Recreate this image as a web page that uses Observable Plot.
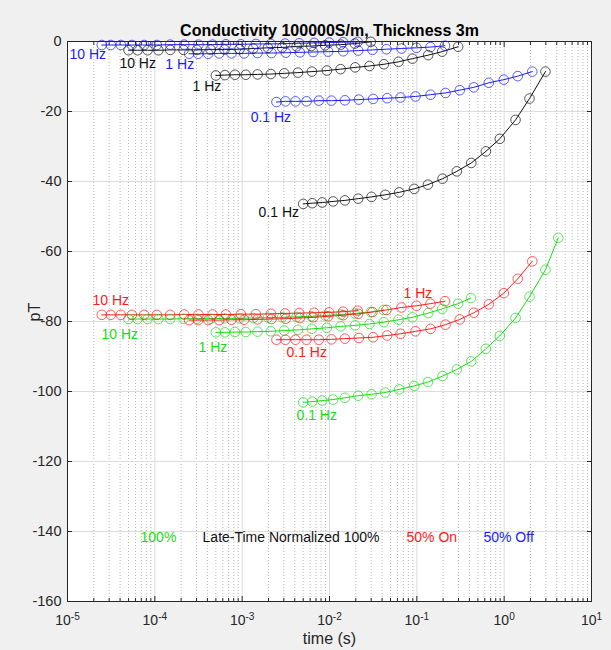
<!DOCTYPE html>
<html><head><meta charset="utf-8">
<script src="https://cdn.jsdelivr.net/npm/d3@7"></script>
<script src="https://cdn.jsdelivr.net/npm/@observablehq/plot@0.6"></script>
<style>
html,body{margin:0;padding:0;background:#f0f0f0;}
#chart svg{display:block;}
</style></head><body><div id="chart"></div>
<script>
// ---- data ----
const freqLabels = ["0.1 Hz", "1 Hz", "10 Hz"];
const freqValues = [0.1, 1, 10];
// sample times (s) at 0.1 Hz; times at other frequencies scale with the period
const tFull = [0.0050,0.00634,0.00826,0.0110,0.0150,0.0213,0.0303,0.0435,0.0628,0.0933,0.134,0.197,0.287,0.420,0.617,0.891,1.35,1.95,2.97,4.16];
const tHalf = [0.00247,0.00313,0.00408,0.00546,0.00755,0.01054,0.0150,0.0217,0.0316,0.0458,0.0650,0.0966,0.1436,0.213,0.310,0.449,0.667,0.991,1.43,2.10];

// 100% (green)
const green01 = [-103.1,-102.9,-102.6,-102.3,-101.8,-101.2,-100.8,-100.3,-99.4,-98.4,-97.3,-95.6,-93.7,-91.4,-87.8,-84.1,-79.0,-72.9,-65.2,-56.1];
const green1  = [-83.1,-83.1,-83.0,-83.0,-82.9,-82.8,-82.6,-82.4,-82.1,-81.8,-81.4,-81.1,-80.7,-80.2,-79.5,-78.8,-77.6,-76.4,-74.9,-73.3];
const green10 = [-79.3,-79.3,-79.3,-79.3,-79.3,-79.2,-79.2,-79.2,-79.1,-79.1,-79.0,-78.9,-78.8,-78.7,-78.5,-78.3,-78.0,-77.7,-77.3,-76.7];
// 50% On (red)
const red01 = [-85.2,-85.2,-85.2,-85.2,-85.2,-85.1,-84.9,-84.7,-84.5,-84.0,-83.5,-82.8,-82.1,-80.9,-79.4,-77.5,-75.1,-71.9,-67.8,-62.8];
const red1  = [-79.6,-79.6,-79.6,-79.6,-79.5,-79.5,-79.4,-79.3,-79.2,-79.0,-78.8,-78.5,-78.2,-77.8,-77.3,-76.7,-76.0,-75.5,-74.9,-74.2];
const red10 = [-78.1,-78.1,-78.1,-78.1,-78.1,-78.1,-78.1,-78.0,-78.0,-78.0,-78.0,-77.9,-77.9,-77.8,-77.7,-77.6,-77.5,-77.4,-77.2,-76.9];
// 50% Off (blue)
const blue01 = [-17.3,-17.1,-17.1,-17.1,-16.9,-16.9,-16.8,-16.6,-16.4,-16.2,-16.0,-15.7,-15.2,-14.7,-13.9,-13.1,-11.8,-10.9,-9.9,-8.6];
const blue1  = [-3.5,-3.5,-3.5,-3.4,-3.4,-3.4,-3.3,-3.3,-3.2,-3.1,-3.0,-2.9,-2.8,-2.6,-2.4,-2.2,-2.0,-1.8,-1.6,-1.2];
const blue10 = [-1.0,-1.0,-1.0,-1.0,-1.0,-1.0,-0.9,-0.9,-0.9,-0.9,-0.8,-0.8,-0.7,-0.7,-0.6,-0.5,-0.4,-0.3,-0.2,-0.1];
// Late-Time Normalized 100% (black)
const black01 = [-46.4,-46.2,-46.0,-45.7,-45.4,-44.9,-44.4,-43.8,-43.1,-42.1,-40.9,-39.2,-37.1,-34.7,-31.4,-27.8,-22.4,-16.3,-8.6];
const black1  = [-9.7,-9.6,-9.5,-9.5,-9.4,-9.3,-9.1,-8.9,-8.6,-8.3,-7.9,-7.4,-7.0,-6.5,-5.8,-4.9,-3.9,-2.9,-1.5];
const black10 = [-2.5,-2.5,-2.5,-2.5,-2.4,-2.4,-2.4,-2.3,-2.3,-2.2,-2.0,-1.8,-1.7,-1.4,-1.3,-1.1,-0.9,-0.6,-0.1];

const GREEN = "#16dc16", RED = "#ff1a1a", BLUE = "#1a1aff", BLACK = "#111111";

// in-plot labels
const labelText  = ["10 Hz","10 Hz","1 Hz","1 Hz","0.1 Hz","0.1 Hz","10 Hz","10 Hz","1 Hz","1 Hz","0.1 Hz","0.1 Hz"];
const labelT     = [1.054e-5,3.93e-5,1.32e-4,2.70e-4,1.25e-3,1.54e-3,1.93e-5,2.45e-5,3.16e-4,0.0703,3.22e-3,4.19e-3];
const labelV     = [-3.7,-6.3,-6.6,-12.9,-21.7,-48.9,-74,-83.7,-87.4,-72,-88.9,-106.9];
const labelColor = [BLUE,BLACK,BLUE,BLACK,BLUE,BLACK,RED,GREEN,GREEN,RED,RED,GREEN];

// legend texts
const legendText  = ["100%","Late-Time Normalized 100%","50% On","50% Off"];
const legendT     = [6.86e-5,3.52e-4,0.0762,0.579];
const legendV     = [-141.7,-141.7,-141.7,-141.7];
const legendColor = [GREEN,BLACK,RED,BLUE];

// axis ticks
const xMajor = [1e-5,1e-4,1e-3,1e-2,1e-1,1,10];
const yTicks = [-160,-140,-120,-100,-80,-60,-40,-20,0];
const xMinor = d3.scaleLog().domain([1e-5,10]).ticks().filter(v => !xMajor.some(m => Math.abs(m - v) / m < 1e-9));

// ---- assemble rows ----
const groups = [
  {name:"green", color:GREEN, times:tFull, vals:[green01,green1,green10]},
  {name:"red",   color:RED,   times:tHalf, vals:[red01,red1,red10]},
  {name:"blue",  color:BLUE,  times:tHalf, vals:[blue01,blue1,blue10]},
  {name:"black", color:BLACK, times:tFull, vals:[black01,black1,black10]}
];
const rows = [];
groups.forEach(g => g.vals.forEach((vals, fi) => vals.forEach((v, i) => {
  rows.push({key: g.name + freqLabels[fi], color: g.color, t: g.times[i] * (freqValues[0] / freqValues[fi]), v});
})));
const labels = labelText.map((s, i) => ({s, t: labelT[i], v: labelV[i], c: labelColor[i]}));
const legend = legendText.map((s, i) => ({s, t: legendT[i], v: legendV[i], c: legendColor[i]}));

const AX = "#262626";
const chart = Plot.plot({
  width: 611, height: 650,
  marginLeft: 67, marginRight: 20, marginTop: 41, marginBottom: 49,
  style: {background: "#f0f0f0", fontFamily: "'Liberation Sans', Arial, sans-serif", fontSize: "13px", color: AX},
  x: {type: "log", domain: [1e-5, 10]},
  y: {domain: [-160, 0]},
  color: {type: "identity"},
  marks: [
    Plot.frame({fill: "white", stroke: "none"}),
    Plot.gridX(xMinor, {stroke: "#b8b8b8", strokeOpacity: 1, strokeDasharray: "1,2"}),
    Plot.gridX(xMajor, {stroke: "#dcdcdc", strokeOpacity: 1}),
    Plot.gridY(yTicks, {stroke: "#dcdcdc", strokeOpacity: 1}),
    Plot.line(rows, {x: "t", y: "v", z: "key", stroke: "color", strokeWidth: 1}),
    Plot.dot(rows, {x: "t", y: "v", stroke: "color", r: 4.8, strokeWidth: 1, strokeOpacity: 0.7, fill: "none"}),
    Plot.text(labels, {x: "t", y: "v", text: "s", fill: "c", textAnchor: "start", fontSize: 14}),
    Plot.text(legend, {x: "t", y: "v", text: "s", fill: "c", textAnchor: "start", fontSize: 14}),
    Plot.frame({stroke: AX, strokeWidth: 1}),
    Plot.axisX(xMajor, {anchor: "bottom", tickSize: -5, fill: "none", stroke: AX}),
    Plot.axisX(xMajor, {anchor: "top", tickSize: -5, fill: "none", stroke: AX}),
    Plot.axisX(xMinor, {anchor: "bottom", tickSize: -3, fill: "none", stroke: AX}),
    Plot.axisX(xMinor, {anchor: "top", tickSize: -3, fill: "none", stroke: AX}),
    Plot.axisX(xMajor, {anchor: "bottom", tickSize: 0, tickPadding: 14, fontSize: 14, fill: AX, label: null,
      tickFormat: d => "10^" + Math.round(Math.log10(d))}),
    Plot.axisY(yTicks, {anchor: "left", tickSize: -5, fill: "none", stroke: AX}),
    Plot.axisY(yTicks, {anchor: "right", tickSize: -5, fill: "none", stroke: AX}),
    Plot.axisY(yTicks, {anchor: "left", tickSize: 0, tickPadding: 6, fontSize: 14.5, fill: AX, label: null,
      tickFormat: d => String(d)}),
    Plot.text(["Conductivity 100000S/m, Thickness 3m"], {frameAnchor: "top", dy: -17, fontWeight: "bold", fontSize: 16, fill: "#000"}),
    Plot.text(["time (s)"], {frameAnchor: "bottom", dy: 42, fontSize: 16, fill: AX}),
    Plot.text(["pT"], {frameAnchor: "left", dx: -33, rotate: -90, fontSize: 16, fill: AX})
  ]
});
document.getElementById("chart").appendChild(chart);

// render exponents as superscripts
d3.select(chart).selectAll("text").each(function() {
  const s = this.textContent;
  const m = /^10\^(-?\d+)$/.exec(s);
  if (!m) return;
  const el = d3.select(this);
  el.text(null);
  el.append("tspan").text("10");
  el.append("tspan").attr("dy", "-0.55em").attr("font-size", "0.72em").text(m[1]);
});
</script>
</body></html>
